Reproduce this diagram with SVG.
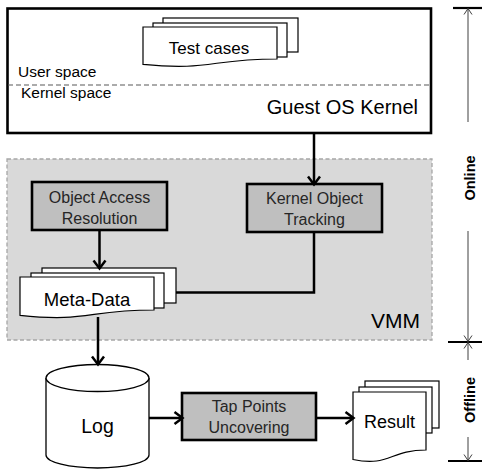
<svg xmlns="http://www.w3.org/2000/svg" width="482" height="469" viewBox="0 0 482 469">
<style>
text{font-family:"Liberation Sans",Arial,sans-serif;fill:#000}
.proc rect{fill:#bfbfbf;stroke:#000;stroke-width:2.6}
.proc text{fill:#262626;font-size:16px;text-anchor:middle}
.sheet{fill:#fff;stroke:#000;stroke-width:1.2}
.conn{fill:none;stroke:#000;stroke-width:2.5}
.tl{fill:none;stroke:#404040;stroke-width:1}
.bar{stroke:#000;stroke-width:2.2}
.side{font-size:14.5px;font-weight:bold;text-anchor:middle}
</style>
<defs>
<marker id="arr" viewBox="-2 -2 16 16" refX="8.5" refY="6" markerWidth="16" markerHeight="16" markerUnits="userSpaceOnUse" orient="auto">
<path d="M2,0 L10,6 L2,12" fill="none" stroke="#000" stroke-width="2.5"/>
</marker>
<marker id="tarr" viewBox="-1 -1 10 10" refX="7" refY="4" markerWidth="10" markerHeight="10" markerUnits="userSpaceOnUse" orient="auto">
<path d="M1,0 L7,4 L1,8" fill="none" stroke="#404040" stroke-width="1"/>
</marker>
</defs>

<g id="vmm">
<rect x="7" y="159" width="425" height="181" fill="#d9d9d9" stroke="#a6a6a6" stroke-width="1.3" stroke-dasharray="4 2.5"/>
<text x="420" y="328" font-size="21" text-anchor="end">VMM</text>
</g>

<g id="guest-os-kernel">
<rect x="7.5" y="8.5" width="423.5" height="124.5" fill="#fff" stroke="#000" stroke-width="2.6"/>
<line x1="8" y1="85" x2="430" y2="85" stroke="#595959" stroke-width="1.2" stroke-dasharray="5 3"/>
<text x="18" y="77" font-size="15.5">User space</text>
<text x="21" y="98" font-size="15.5">Kernel space</text>
<text x="418" y="114" font-size="20" text-anchor="end">Guest OS Kernel</text>
</g>

<g id="test-cases">
<rect class="sheet" x="163" y="18" width="135" height="34"/>
<rect class="sheet" x="153" y="23" width="134" height="34"/>
<path class="sheet" d="M143,27 H277 V59 C210,59 210,71 143,64.4 Z"/>
<text x="209" y="54" font-size="17" text-anchor="middle">Test cases</text>
</g>

<g id="object-access-resolution" class="proc">
<rect x="32" y="182" width="135" height="48"/>
<text x="99.5" y="202.5">Object Access</text>
<text x="99.5" y="224">Resolution</text>
</g>

<g id="kernel-object-tracking" class="proc">
<rect x="247" y="184" width="135" height="48"/>
<text x="314.5" y="203.5">Kernel Object</text>
<text x="314.5" y="225">Tracking</text>
</g>

<g id="meta-data">
<rect class="sheet" x="42" y="268" width="134" height="35"/>
<rect class="sheet" x="31" y="273" width="133" height="35"/>
<path class="sheet" d="M20,277 H154 V310 C87,310 87,322.5 20,315.3 Z"/>
<text x="87" y="306" font-size="18.5" text-anchor="middle">Meta-Data</text>
</g>

<g id="log">
<path d="M46,378 V455 A51.5,13 0 0 0 149,455 V378" fill="#fff" stroke="#000" stroke-width="1.3"/>
<ellipse cx="97.5" cy="378" rx="51.5" ry="13.5" fill="#fff" stroke="#000" stroke-width="1.3"/>
<text x="97.5" y="433" font-size="19.5" text-anchor="middle">Log</text>
</g>

<g id="tap-points-uncovering" class="proc">
<rect x="182" y="393" width="134" height="47"/>
<text x="249" y="412">Tap Points</text>
<text x="249" y="433">Uncovering</text>
</g>

<g id="result">
<rect class="sheet" x="365" y="381" width="74" height="47"/>
<rect class="sheet" x="359" y="387" width="73" height="46"/>
<path class="sheet" d="M353,392 H426 V450 C389.5,450 389.5,467 353,459.5 Z"/>
<text x="389.5" y="428" font-size="18" text-anchor="middle">Result</text>
</g>

<g id="timeline">
<line class="bar" x1="453" y1="8" x2="482" y2="8"/>
<line class="bar" x1="448" y1="342" x2="482" y2="342"/>
<line class="bar" x1="448" y1="461" x2="482" y2="461"/>
<line class="tl" x1="468" y1="122" x2="468" y2="8.5" marker-end="url(#tarr)"/>
<line class="tl" x1="468" y1="231" x2="468" y2="341.5" marker-end="url(#tarr)"/>
<line class="tl" x1="468" y1="360" x2="468" y2="342.5" marker-end="url(#tarr)"/>
<line class="tl" x1="468" y1="437" x2="468" y2="460.5" marker-end="url(#tarr)"/>
<text class="side" x="475" y="178" transform="rotate(-90 475 178)">Online</text>
<text class="side" x="475" y="400" transform="rotate(-90 475 400)">Offline</text>
</g>

<g id="connectors">
<line class="conn" x1="314" y1="133" x2="314" y2="183" marker-end="url(#arr)"/>
<line class="conn" x1="99.5" y1="230" x2="99.5" y2="267" marker-end="url(#arr)"/>
<polyline class="conn" points="314,232 314,292.5 176,292.5" stroke-width="2.2"/>
<line class="conn" x1="98" y1="317" x2="98" y2="363" marker-end="url(#arr)"/>
<line class="conn" x1="149" y1="418" x2="181" y2="418" marker-end="url(#arr)"/>
<line class="conn" x1="316" y1="418" x2="352" y2="418" marker-end="url(#arr)"/>
</g>
</svg>
